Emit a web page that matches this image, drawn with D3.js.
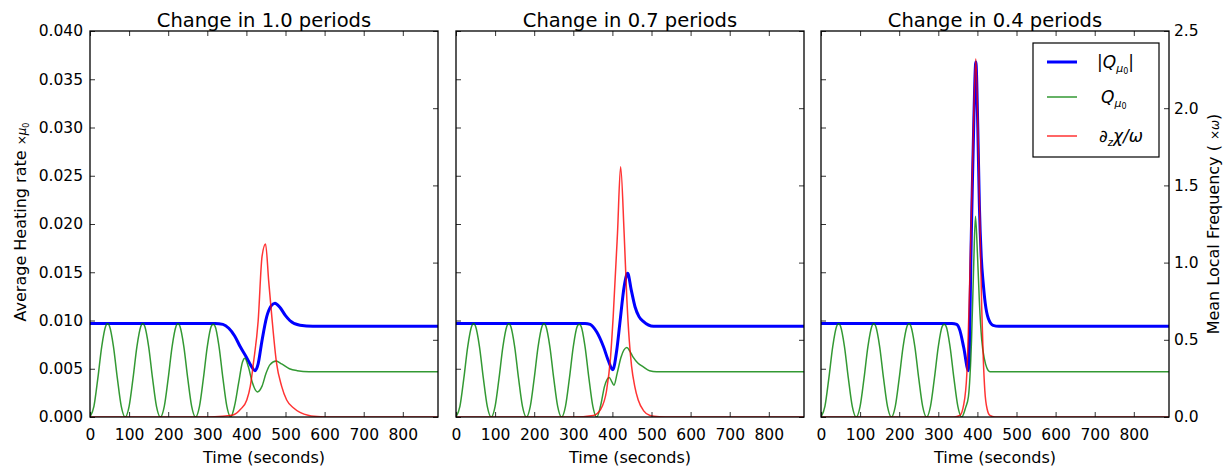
<!DOCTYPE html>
<html>
<head>
<meta charset="utf-8">
<script src="https://cdn.jsdelivr.net/npm/d3@7"></script>
<style>
  body { margin: 0; background: #fff; }
  text { font-family: "DejaVu Sans", sans-serif; fill: #000; }
</style>
</head>
<body>
<script>
// chart values
var panelTitles = ["Change in 1.0 periods", "Change in 0.7 periods", "Change in 0.4 periods"];
var xTicks = [0, 100, 200, 300, 400, 500, 600, 700, 800];
var leftTicks = [0, 0.005, 0.010, 0.015, 0.020, 0.025, 0.030, 0.035, 0.040];
var rightTicks = [0, 0.5, 1.0, 1.5, 2.0, 2.5];

// green Q before the change is the same in every panel
var oscTime = [0, 10, 20, 30, 40, 45, 50, 60, 70, 80, 90, 100, 110, 120, 130, 135, 140, 150, 160, 170,
  180, 190, 200, 210, 220, 225, 230, 240, 250, 260, 270, 280, 290, 300, 310, 315, 320, 330, 340, 350, 360];
var oscQ = [0, 0.0011, 0.0040, 0.0073, 0.0094, 0.0097, 0.0094, 0.0073, 0.0040, 0.0011,
  0, 0.0011, 0.0040, 0.0073, 0.0094, 0.0097, 0.0094, 0.0073, 0.0040, 0.0011,
  0, 0.0011, 0.0040, 0.0073, 0.0094, 0.0097, 0.0094, 0.0073, 0.0040, 0.0011,
  0, 0.0011, 0.0040, 0.0073, 0.0094, 0.0096, 0.0094, 0.0073, 0.0040, 0.0011, 0];

// panel 1
var absQ1 = [[0, 0.0097], [320, 0.0097], [340, 0.0096], [355, 0.0092], [370, 0.0084], [384, 0.0073],
  [400, 0.0062], [412, 0.0053], [422, 0.0048], [430, 0.0055], [439, 0.0077], [452, 0.0104],
  [463, 0.0115], [473, 0.0118], [485, 0.0114], [500, 0.0105], [511, 0.0100], [537, 0.0095],
  [570, 0.0094], [890, 0.0094]];
var qTail1 = [[370, 0.0012], [380, 0.0035], [390, 0.0057], [396, 0.0061], [405, 0.0052], [415, 0.0036],
  [428, 0.0026], [440, 0.0032], [450, 0.0045], [460, 0.0054], [476, 0.0058], [490, 0.0055],
  [510, 0.0050], [530, 0.0048], [560, 0.0047], [890, 0.0047]];
var freq1 = [[0, 0], [300, 0], [340, 0.005], [366, 0.013], [385, 0.05], [401, 0.11], [410, 0.2],
  [418, 0.35], [430, 0.62], [440, 1.04], [449, 1.12], [457, 0.88], [465, 0.65], [477, 0.35],
  [490, 0.2], [503, 0.11], [520, 0.06], [537, 0.03], [560, 0.01], [590, 0.002], [620, 0], [890, 0]];

// panel 2
var absQ2 = [[0, 0.0097], [330, 0.0097], [343, 0.0096], [360, 0.0088], [377, 0.0073], [390, 0.0058],
  [401, 0.0049], [411, 0.0069], [419, 0.0097], [430, 0.0135], [439, 0.0149], [448, 0.0132],
  [458, 0.0114], [468, 0.0104], [479, 0.0099], [505, 0.0094], [890, 0.0094]];
var qTail2 = [[370, 0.0012], [380, 0.0032], [392, 0.0041], [398, 0.0037], [404, 0.0033], [412, 0.0045],
  [422, 0.0062], [437, 0.0072], [445, 0.0068], [453, 0.0062], [465, 0.0056], [479, 0.0052],
  [495, 0.0048], [513, 0.0047], [890, 0.0047]];
var freq2 = [[0, 0], [300, 0], [351, 0.01], [370, 0.05], [385, 0.17], [395, 0.38], [402, 0.65],
  [413, 1.19], [421, 1.62], [430, 1.19], [437, 0.76], [443, 0.5], [449, 0.33], [457, 0.2],
  [466, 0.11], [480, 0.04], [496, 0.01], [520, 0.002], [550, 0], [890, 0]];

// panel 3
var absQ3 = [[0, 0.0097], [335, 0.0097], [347, 0.0096], [355, 0.0090], [365, 0.0072], [377, 0.0048],
  [385, 0.0200], [391, 0.0310], [396, 0.0368], [401, 0.0300], [405, 0.0220], [410, 0.0165],
  [415, 0.0138], [420, 0.0118], [428, 0.0102], [440, 0.0095], [455, 0.0094], [890, 0.0094]];
var qTail3 = [[370, 0.0010], [377, 0.0021], [385, 0.0080], [390, 0.0150], [395, 0.0208], [400, 0.0170],
  [405, 0.0120], [411, 0.0080], [418, 0.0060], [424, 0.0051], [432, 0.0047], [890, 0.0047]];
var freq3 = [[0, 0], [340, 0], [355, 0.01], [365, 0.08], [373, 0.28], [383, 1.15], [390, 1.9],
  [396, 2.32], [402, 1.79], [411, 0.71], [415, 0.38], [419, 0.17], [425, 0.05], [432, 0.01],
  [445, 0], [890, 0]];

var absQ = [absQ1, absQ2, absQ3];
var qTails = [qTail1, qTail2, qTail3];
var freqs = [freq1, freq2, freq3];

// layout
var svgWidth = 1225, svgHeight = 466;
var panelLeft = [90, 456, 821];
var panelWidth = 348;
var plotTop = 31, plotBottom = 417;
var plotHeight = plotBottom - plotTop;

var svg = d3.select("body").append("svg")
  .attr("width", svgWidth)
  .attr("height", svgHeight);

var xScale = d3.scaleLinear().domain([0, 890]).range([0, panelWidth]);
var yLeft = d3.scaleLinear().domain([0, 0.040]).range([plotHeight, 0]);
var yRight = d3.scaleLinear().domain([0, 2.5]).range([plotHeight, 0]);

var oscPoints = oscTime.map(function(t, i) { return [t, oscQ[i]]; });

var lineLeft = d3.line()
  .x(function(d) { return xScale(d[0]); })
  .y(function(d) { return yLeft(d[1]); })
  .curve(d3.curveMonotoneX);
var lineRight = d3.line()
  .x(function(d) { return xScale(d[0]); })
  .y(function(d) { return yRight(d[1]); })
  .curve(d3.curveMonotoneX);

function styleTicks(g) {
  g.select(".domain").remove();
  g.attr("font-family", null).attr("font-size", null);
  g.selectAll(".tick line").attr("stroke", "#333").attr("stroke-width", 1);
  g.selectAll(".tick text").style("font-size", "15.5px").attr("fill", "#111");
}

panelTitles.forEach(function(title, p) {
  var chartGroup = svg.append("g")
    .attr("transform", "translate(" + panelLeft[p] + "," + plotTop + ")");

  chartGroup.append("clipPath").attr("id", "clip" + p)
    .append("rect").attr("width", panelWidth).attr("height", plotHeight);

  var plot = chartGroup.append("g").attr("clip-path", "url(#clip" + p + ")");

  // blue |Q|
  plot.append("path")
    .attr("d", lineLeft(absQ[p]))
    .attr("fill", "none").attr("stroke", "#0000ff")
    .attr("stroke-width", 3);

  // green Q
  plot.append("path")
    .attr("d", lineLeft(oscPoints.concat(qTails[p])))
    .attr("fill", "none").attr("stroke", "#008000").attr("stroke-opacity", 0.8)
    .attr("stroke-width", 1.5);

  // red frequency (right axis, drawn on top like a twin axis)
  plot.append("path")
    .attr("d", lineRight(freqs[p]))
    .attr("fill", "none").attr("stroke", "#ff0000").attr("stroke-opacity", 0.8)
    .attr("stroke-width", 1.5);

  // axes with inward ticks
  chartGroup.append("g")
    .attr("transform", "translate(0," + plotHeight + ")")
    .call(d3.axisBottom(xScale).tickValues(xTicks).tickSize(-5).tickPadding(12).tickFormat(d3.format("d")))
    .call(styleTicks);
  chartGroup.append("g")
    .call(d3.axisTop(xScale).tickValues(xTicks).tickSize(-5).tickFormat(""))
    .call(styleTicks);
  chartGroup.append("g")
    .call(d3.axisLeft(yLeft).tickValues(leftTicks).tickSize(-5).tickPadding(7)
      .tickFormat(p === 0 ? d3.format(".3f") : ""))
    .call(styleTicks);
  chartGroup.append("g")
    .attr("transform", "translate(" + panelWidth + ",0)")
    .call(d3.axisRight(yRight).tickValues(rightTicks).tickSize(-5).tickPadding(5)
      .tickFormat(p === 2 ? d3.format(".1f") : ""))
    .call(styleTicks);

  chartGroup.append("rect")
    .attr("width", panelWidth).attr("height", plotHeight)
    .attr("fill", "none").attr("stroke", "#000").attr("stroke-width", 1.3);

  chartGroup.append("text")
    .attr("x", panelWidth / 2).attr("y", -4)
    .attr("text-anchor", "middle")
    .style("font-size", "19.5px")
    .text(title);

  chartGroup.append("text")
    .attr("x", panelWidth / 2).attr("y", plotHeight + 46)
    .attr("text-anchor", "middle")
    .style("font-size", "16px")
    .text("Time (seconds)");
});

// left y label
var leftLabel = svg.append("text")
  .attr("transform", "translate(26,222) rotate(-90)")
  .attr("text-anchor", "middle")
  .style("font-size", "16px");
leftLabel.append("tspan").text("Average Heating rate  ");
leftLabel.append("tspan").style("font-size", "12px").text("×");
leftLabel.append("tspan").style("font-size", "12px").style("font-style", "italic").text("μ");
leftLabel.append("tspan").style("font-size", "8px").attr("dy", 3).text("0");

// right y label
var rightLabel = svg.append("text")
  .attr("transform", "translate(1219,224) rotate(-90)")
  .attr("text-anchor", "middle")
  .style("font-size", "16px");
rightLabel.append("tspan").text("Mean Local Frequency ( ");
rightLabel.append("tspan").style("font-size", "12px").text("×");
rightLabel.append("tspan").style("font-size", "12px").style("font-style", "italic").text("ω");
rightLabel.append("tspan").text(")");

// legend in the last panel
var legend = svg.append("g").attr("transform", "translate(1033,43)");
legend.append("rect").attr("width", 126).attr("height", 114)
  .attr("fill", "#fff").attr("stroke", "#000").attr("stroke-width", 1.2);
var legendColors = ["#0000ff", "rgba(0,128,0,0.8)", "rgba(255,0,0,0.8)"];
var legendWidths = [3, 1.5, 1.5];
var legendY = [19, 54, 93];
legendColors.forEach(function(c, i) {
  legend.append("line")
    .attr("x1", 14).attr("x2", 44).attr("y1", legendY[i]).attr("y2", legendY[i])
    .attr("stroke", c).attr("stroke-width", legendWidths[i]);
});
var l1 = legend.append("text").attr("x", 64).attr("y", legendY[0] + 6).style("font-size", "17px");
l1.append("tspan").text("|");
l1.append("tspan").style("font-style", "italic").text("Q");
l1.append("tspan").style("font-size", "11px").style("font-style", "italic").attr("dy", 4).text("μ");
l1.append("tspan").style("font-size", "8px").attr("dy", 2).text("0");
l1.append("tspan").attr("dy", -6).text("|");
var l2 = legend.append("text").attr("x", 68).attr("y", legendY[1] + 6).style("font-size", "17px");
l2.append("tspan").style("font-style", "italic").text("Q");
l2.append("tspan").style("font-size", "11px").style("font-style", "italic").attr("dy", 4).text("μ");
l2.append("tspan").style("font-size", "8px").attr("dy", 2).text("0");
var l3 = legend.append("text").attr("x", 66).attr("y", legendY[2] + 6).style("font-size", "17px");
l3.append("tspan").style("font-style", "italic").text("∂");
l3.append("tspan").style("font-size", "10px").style("font-style", "italic").attr("dy", 4).text("z");
l3.append("tspan").style("font-style", "italic").attr("dy", -4).text("χ/ω");
</script>
</body>
</html>
